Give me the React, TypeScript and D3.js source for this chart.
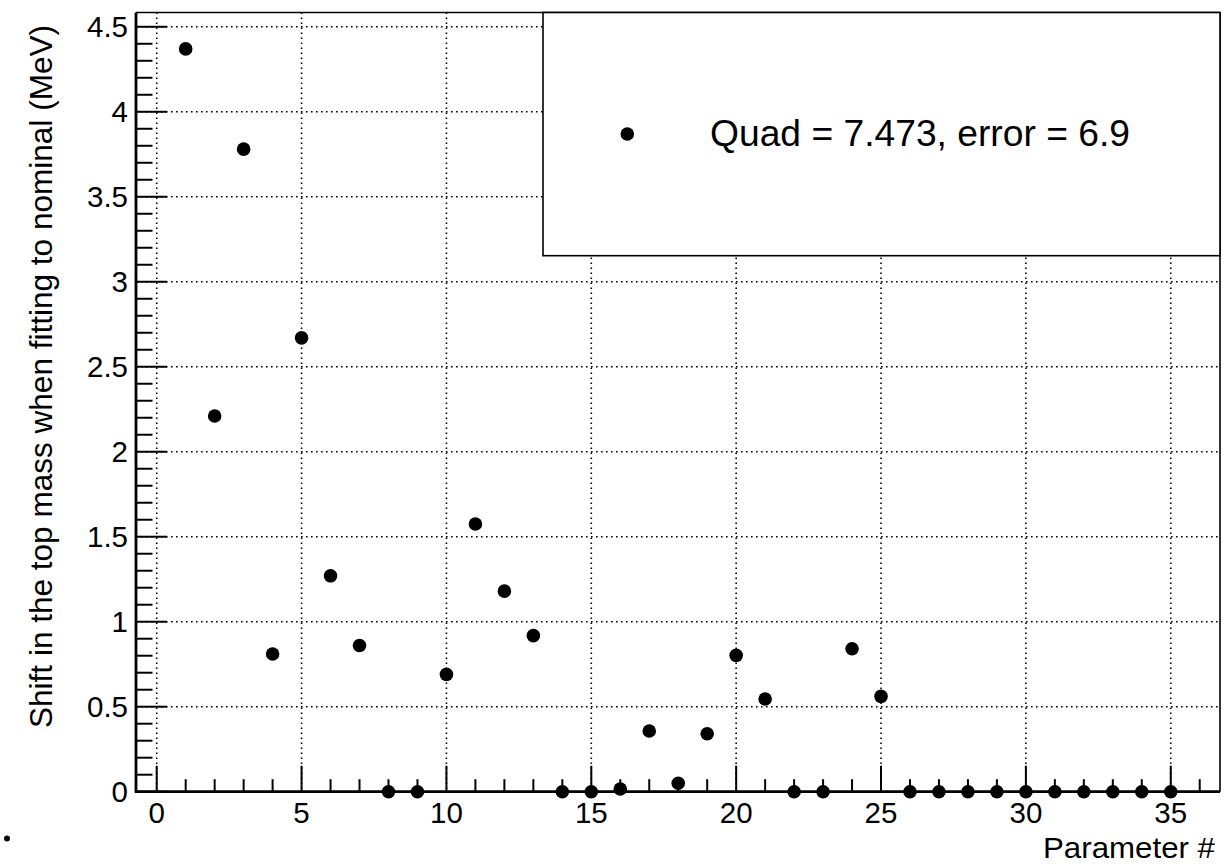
import React from "react";
import * as d3 from "d3";

// Parameter index and the shift of the fitted top mass (MeV)
const paramIndex: number[] = d3.range(1, 36);
const massShift: number[] = [
  4.37, 2.21, 3.78, 0.81, 2.67, 1.27, 0.86, 0, 0, 0.69,
  1.575, 1.18, 0.918, 0, 0, 0.016, 0.357, 0.05, 0.341, 0.802,
  0.545, 0, 0, 0.841, 0.561, 0, 0, 0, 0, 0,
  0, 0, 0, 0, 0,
];
const xMajorTicks: number[] = [0, 5, 10, 15, 20, 25, 30, 35];
const yMajorTicks: number[] = [0, 0.5, 1, 1.5, 2, 2.5, 3, 3.5, 4, 4.5];
const yTickLabels: string[] = ["0", "0.5", "1", "1.5", "2", "2.5", "3", "3.5", "4", "4.5"];
const legendLabel = "Quad = 7.473, error = 6.9";
const xTitle = "Parameter #";
const yTitle = "Shift in the top mass when fitting to nominal (MeV)";

const W = 1225;
const H = 864;
const frame = { left: 136, right: 1220, top: 12.5, bottom: 791.7 };
const FONT = "'Liberation Sans', Arial, Helvetica, sans-serif";

export default function App() {
  const x = d3.scaleLinear().domain([-0.715, 36.7]).range([frame.left, frame.right]);
  const y = d3.scaleLinear().domain([0, 4.584]).range([frame.bottom, frame.top]);

  const xMinor = d3.range(0, 37).filter((v) => v % 5 !== 0);
  const yMinor = d3
    .range(0, 46)
    .map((i) => i / 10)
    .filter((v, i) => i % 5 !== 0 && y(v) > frame.top);

  const points = paramIndex.map((p, i) => ({ p, v: massShift[i] }));

  const legend = { x0: 543, y0: frame.top, x1: frame.right, y1: 255.7 };

  return (
    <svg
      width={W}
      height={H}
      style={{ position: "absolute", left: 0, top: 0, display: "block", background: "#fff" }}
      fontFamily={FONT}
    >
      <rect x={0} y={0} width={W} height={H} fill="#fff" />

      {/* dotted grid at the major ticks */}
      <g stroke="#000" strokeWidth={1.6} strokeDasharray="1.6 3.4">
        {xMajorTicks.map((t) => (
          <line key={"gx" + t} x1={x(t)} x2={x(t)} y1={frame.top} y2={frame.bottom} />
        ))}
        {yMajorTicks
          .filter((t) => t > 0)
          .map((t) => (
            <line key={"gy" + t} x1={frame.left} x2={frame.right} y1={y(t)} y2={y(t)} />
          ))}
      </g>

      {/* axis ticks */}
      <g stroke="#000" strokeWidth={2}>
        {xMajorTicks.map((t) => (
          <line key={"xt" + t} x1={x(t)} x2={x(t)} y1={frame.bottom} y2={frame.bottom - 26} />
        ))}
        {xMinor.map((t) => (
          <line key={"xm" + t} x1={x(t)} x2={x(t)} y1={frame.bottom} y2={frame.bottom - 12.5} />
        ))}
        {yMajorTicks.map((t) => (
          <line key={"yt" + t} x1={frame.left} x2={frame.left + 31} y1={y(t)} y2={y(t)} />
        ))}
        {yMinor.map((t) => (
          <line key={"ym" + t} x1={frame.left} x2={frame.left + 16.5} y1={y(t)} y2={y(t)} />
        ))}
      </g>

      {/* frame */}
      <line x1={frame.left} x2={frame.right} y1={frame.top} y2={frame.top} stroke="#000" strokeWidth={1.6} />
      <line x1={frame.right} x2={frame.right} y1={frame.top} y2={frame.bottom} stroke="#000" strokeWidth={1.6} />
      <line x1={frame.left} x2={frame.left} y1={frame.top} y2={frame.bottom + 1.3} stroke="#000" strokeWidth={2.8} />
      <line x1={frame.left} x2={frame.right} y1={frame.bottom} y2={frame.bottom} stroke="#000" strokeWidth={2.8} />

      {/* data markers */}
      <g fill="#000">
        {points.map((d) => (
          <circle key={"pt" + d.p} cx={x(d.p)} cy={y(d.v)} r={6.8} />
        ))}
      </g>

      {/* legend */}
      <rect
        x={legend.x0}
        y={legend.y0}
        width={legend.x1 - legend.x0}
        height={legend.y1 - legend.y0}
        fill="#fff"
        stroke="#000"
        strokeWidth={1.6}
      />
      <circle cx={627.3} cy={134} r={6.8} fill="#000" />
      <text x={710} y={145.5} fontSize={37} textLength={420} lengthAdjust="spacingAndGlyphs" fill="#000">
        {legendLabel}
      </text>

      {/* tick labels */}
      <g fontSize={29.5} fill="#000">
        {xMajorTicks.map((t) => (
          <text key={"xl" + t} x={x(t)} y={823} textAnchor="middle">
            {String(t)}
          </text>
        ))}
        {yMajorTicks.map((t, i) => (
          <text key={"yl" + t} x={128} y={y(t) + 10.5} textAnchor="end">
            {yTickLabels[i]}
          </text>
        ))}
      </g>

      {/* axis titles */}
      <text x={1215} y={858} fontSize={30} textAnchor="end" textLength={172} lengthAdjust="spacingAndGlyphs">
        {xTitle}
      </text>
      <text
        transform={`translate(52, ${(25 + 728) / 2}) rotate(-90)`}
        fontSize={31.5}
        textAnchor="middle"
        textLength={703}
        lengthAdjust="spacingAndGlyphs"
      >
        {yTitle}
      </text>

      {/* stray marker in the lower-left corner */}
      <circle cx={7} cy={838.5} r={3} fill="#000" />
    </svg>
  );
}
